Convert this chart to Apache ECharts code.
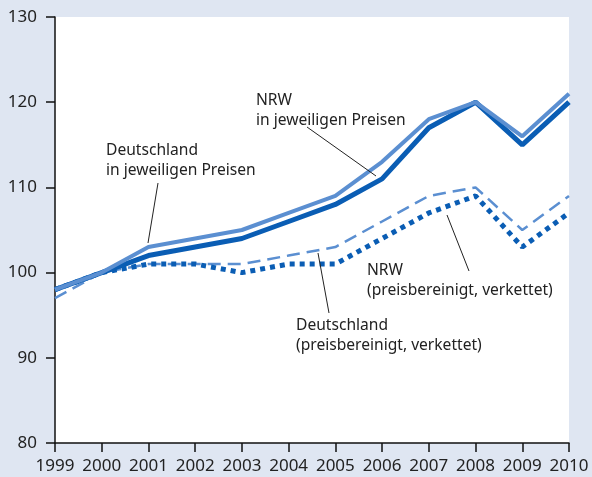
<!DOCTYPE html>
<html><head><meta charset="utf-8">
<script src="https://cdn.jsdelivr.net/npm/echarts@6/dist/echarts.min.js"></script>
<style>html,body{margin:0;padding:0;background:#dfe6f2;}#c{width:592px;height:477px;}</style>
</head><body><div id="c"></div>
<script>
var years = ['1999','2000','2001','2002','2003','2004','2005','2006','2007','2008','2009','2010'];
var deNominal = [98, 100, 103, 104, 105, 107, 109, 113, 118, 120, 116, 121];
var nrwNominal = [98, 100, 102, 103, 104, 106, 108, 111, 117, 120, 115, 120];
var deReal = [97, 100, 101, 101, 101, 102, 103, 106, 109, 110, 105, 109];
var nrwReal = [98, 100, 101, 101, 100, 101, 101, 104, 107, 109, 103, 107];
var yTicks = [80, 90, 100, 110, 120, 130];

var LIGHT = '#5b8fd1', DARK = '#0a5db4', TXT = '#222';
var font = '"Noto Sans", "Open Sans", sans-serif';
var chart = echarts.init(document.getElementById('c'));
function label(x, y, lines) {
  return {type:'text', left:x, top:y, z:100, style:{text:lines.join('\n'), fill:TXT, font:'15.6px ' + font, lineHeight:20}};
}
function leader(x1,y1,x2,y2){
  return {type:'line', z:100, shape:{x1:x1,y1:y1,x2:x2,y2:y2}, style:{stroke:'#222', lineWidth:1}};
}
chart.setOption({
  backgroundColor:'#dfe6f2',
  animation:false,
  grid:{left:55, right:23, top:17, bottom:34, show:true, backgroundColor:'#ffffff', borderWidth:0},
  xAxis:{type:'category', data:years, boundaryGap:false,
    axisLine:{lineStyle:{color:'#111', width:1.5}},
    axisTick:{show:true, length:9, interval:0, lineStyle:{color:'#111', width:1.5}},
    axisLabel:{color:TXT, fontSize:17, fontFamily:font, margin:15, interval:0}},
  yAxis:{type:'value', min:yTicks[0], max:yTicks[yTicks.length-1], interval:10,
    splitLine:{show:false},
    axisLine:{show:true, lineStyle:{color:'#111', width:1.5}},
    axisTick:{show:true, length:9, lineStyle:{color:'#111', width:1.5}},
    axisLabel:{color:TXT, fontSize:17, fontFamily:font, margin:18}},
  series:[
    {name:'Deutschland (preisbereinigt, verkettet)', type:'line', data:deReal, symbol:'none',
      lineStyle:{color:LIGHT, width:2.5, type:[13,7]}},
    {name:'NRW (preisbereinigt, verkettet)', type:'line', data:nrwReal, symbol:'none',
      lineStyle:{color:DARK, width:5, type:[5,5]}},
    {name:'NRW in jeweiligen Preisen', type:'line', data:nrwNominal, symbol:'none',
      lineStyle:{color:DARK, width:5}},
    {name:'Deutschland in jeweiligen Preisen', type:'line', data:deNominal, symbol:'none',
      lineStyle:{color:LIGHT, width:4}}
  ],
  graphic:[
    label(106, 141, ['Deutschland','in jeweiligen Preisen']),
    leader(158,183,148,243),
    label(256, 91, ['NRW','in jeweiligen Preisen']),
    leader(307,127,376,176),
    label(367, 261, ['NRW','(preisbereinigt, verkettet)']),
    leader(447,215,469,271),
    label(296, 316, ['Deutschland','(preisbereinigt, verkettet)']),
    leader(318,253,329,313)
  ]
});
</script></body></html>
